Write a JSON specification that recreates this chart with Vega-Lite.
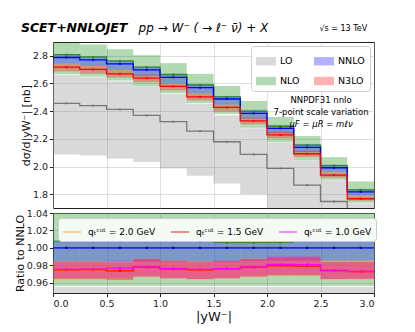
{
"$schema": "https://vega.github.io/schema/vega-lite/v6.json",
"background": "white",
"padding": {"left": 13, "top": 21, "right": 5, "bottom": 3},
"spacing": 5,
"bounds": "flush",
"config": {
  "font": "DejaVu Sans",
  "view": {"stroke": "#222", "strokeWidth": 1},
  "axis": {"labelFont": "DejaVu Sans", "titleFont": "DejaVu Sans", "labelFontSize": 9.5, "titleFontSize": 11, "titleFontWeight": "normal", "tickColor": "#222", "domain": false, "gridColor": "#b0b0b0", "gridOpacity": 0.4, "tickSize": 3.5, "labelPadding": 2, "labelOverlap": false, "labelSeparation": 0, "labelBound": false, "labelColor": "#222", "titleColor": "#111"}
},
"datasets": {
"top": [
{"s":"LO","i":1,"lo":0,"hi":0.25,"c":0.125,"v":2.457,"d":2.087,"u":2.662},
{"s":"LO","i":2,"lo":0.25,"hi":0.5,"c":0.375,"v":2.440,"d":2.080,"u":2.646},
{"s":"LO","i":3,"lo":0.5,"hi":0.75,"c":0.625,"v":2.413,"d":2.058,"u":2.616},
{"s":"LO","i":4,"lo":0.75,"hi":1.0,"c":0.875,"v":2.370,"d":2.032,"u":2.578},
{"s":"LO","i":5,"lo":1.0,"hi":1.25,"c":1.125,"v":2.324,"d":1.986,"u":2.524},
{"s":"LO","i":6,"lo":1.25,"hi":1.5,"c":1.375,"v":2.256,"d":1.933,"u":2.452},
{"s":"LO","i":7,"lo":1.5,"hi":1.75,"c":1.625,"v":2.179,"d":1.877,"u":2.370},
{"s":"LO","i":8,"lo":1.75,"hi":2.0,"c":1.875,"v":2.087,"d":1.800,"u":2.277},
{"s":"LO","i":9,"lo":2.0,"hi":2.25,"c":2.125,"v":1.986,"d":1.690,"u":2.174},
{"s":"LO","i":10,"lo":2.25,"hi":2.5,"c":2.375,"v":1.865,"d":1.560,"u":2.042},
{"s":"LO","i":11,"lo":2.5,"hi":2.75,"c":2.625,"v":1.747,"d":1.430,"u":1.901},
{"s":"LO","i":12,"lo":2.75,"hi":3.0,"c":2.875,"v":1.672,"d":1.300,"u":1.735},
{"s":"NLO","i":1,"lo":0,"hi":0.25,"c":0.125,"v":2.809,"d":2.666,"u":2.895},
{"s":"NLO","i":2,"lo":0.25,"hi":0.5,"c":0.375,"v":2.792,"d":2.649,"u":2.882},
{"s":"NLO","i":3,"lo":0.5,"hi":0.75,"c":0.625,"v":2.763,"d":2.621,"u":2.848},
{"s":"NLO","i":4,"lo":0.75,"hi":1.0,"c":0.875,"v":2.719,"d":2.580,"u":2.805},
{"s":"NLO","i":5,"lo":1.0,"hi":1.25,"c":1.125,"v":2.665,"d":2.529,"u":2.747},
{"s":"NLO","i":6,"lo":1.25,"hi":1.5,"c":1.375,"v":2.589,"d":2.457,"u":2.670},
{"s":"NLO","i":7,"lo":1.5,"hi":1.75,"c":1.625,"v":2.503,"d":2.379,"u":2.582},
{"s":"NLO","i":8,"lo":1.75,"hi":2.0,"c":1.875,"v":2.398,"d":2.279,"u":2.474},
{"s":"NLO","i":9,"lo":2.0,"hi":2.25,"c":2.125,"v":2.290,"d":2.176,"u":2.358},
{"s":"NLO","i":10,"lo":2.25,"hi":2.5,"c":2.375,"v":2.155,"d":2.044,"u":2.220},
{"s":"NLO","i":11,"lo":2.5,"hi":2.75,"c":2.625,"v":2.007,"d":1.903,"u":2.068},
{"s":"NLO","i":12,"lo":2.75,"hi":3.0,"c":2.875,"v":1.831,"d":1.737,"u":1.892},
{"s":"NNLO","i":1,"lo":0,"hi":0.25,"c":0.125,"v":2.788,"d":2.743,"u":2.811},
{"s":"NNLO","i":2,"lo":0.25,"hi":0.5,"c":0.375,"v":2.771,"d":2.727,"u":2.793},
{"s":"NNLO","i":3,"lo":0.5,"hi":0.75,"c":0.625,"v":2.742,"d":2.698,"u":2.764},
{"s":"NNLO","i":4,"lo":0.75,"hi":1.0,"c":0.875,"v":2.699,"d":2.656,"u":2.721},
{"s":"NNLO","i":5,"lo":1.0,"hi":1.25,"c":1.125,"v":2.645,"d":2.603,"u":2.669},
{"s":"NNLO","i":6,"lo":1.25,"hi":1.5,"c":1.375,"v":2.570,"d":2.529,"u":2.593},
{"s":"NNLO","i":7,"lo":1.5,"hi":1.75,"c":1.625,"v":2.488,"d":2.448,"u":2.510},
{"s":"NNLO","i":8,"lo":1.75,"hi":2.0,"c":1.875,"v":2.384,"d":2.346,"u":2.410},
{"s":"NNLO","i":9,"lo":2.0,"hi":2.25,"c":2.125,"v":2.276,"d":2.240,"u":2.301},
{"s":"NNLO","i":10,"lo":2.25,"hi":2.5,"c":2.375,"v":2.138,"d":2.105,"u":2.162},
{"s":"NNLO","i":11,"lo":2.5,"hi":2.75,"c":2.625,"v":1.991,"d":1.961,"u":2.013},
{"s":"NNLO","i":12,"lo":2.75,"hi":3.0,"c":2.875,"v":1.817,"d":1.790,"u":1.837},
{"s":"N3LO","i":1,"lo":0,"hi":0.25,"c":0.125,"v":2.718,"d":2.688,"u":2.743},
{"s":"N3LO","i":2,"lo":0.25,"hi":0.5,"c":0.375,"v":2.702,"d":2.671,"u":2.727},
{"s":"N3LO","i":3,"lo":0.5,"hi":0.75,"c":0.625,"v":2.669,"d":2.643,"u":2.698},
{"s":"N3LO","i":4,"lo":0.75,"hi":1.0,"c":0.875,"v":2.639,"d":2.610,"u":2.664},
{"s":"N3LO","i":5,"lo":1.0,"hi":1.25,"c":1.125,"v":2.579,"d":2.550,"u":2.603},
{"s":"N3LO","i":6,"lo":1.25,"hi":1.5,"c":1.375,"v":2.503,"d":2.477,"u":2.529},
{"s":"N3LO","i":7,"lo":1.5,"hi":1.75,"c":1.625,"v":2.427,"d":2.398,"u":2.448},
{"s":"N3LO","i":8,"lo":1.75,"hi":2.0,"c":1.875,"v":2.330,"d":2.305,"u":2.353},
{"s":"N3LO","i":9,"lo":2.0,"hi":2.25,"c":2.125,"v":2.228,"d":2.203,"u":2.251},
{"s":"N3LO","i":10,"lo":2.25,"hi":2.5,"c":2.375,"v":2.092,"d":2.070,"u":2.114},
{"s":"N3LO","i":11,"lo":2.5,"hi":2.75,"c":2.625,"v":1.938,"d":1.919,"u":1.959},
{"s":"N3LO","i":12,"lo":2.75,"hi":3.0,"c":2.875,"v":1.767,"d":1.753,"u":1.788}
],
"bot": [
{"s":"LO","i":1,"lo":0,"hi":3.0,"c":1.5,"v":0.88,"d":0.75,"u":0.955},
{"s":"NLO","i":1,"lo":0,"hi":0.25,"c":0.125,"v":1.0076,"d":0.956,"u":1.041},
{"s":"NLO","i":2,"lo":0.25,"hi":0.5,"c":0.375,"v":1.0076,"d":0.956,"u":1.041},
{"s":"NLO","i":3,"lo":0.5,"hi":0.75,"c":0.625,"v":1.0076,"d":0.956,"u":1.041},
{"s":"NLO","i":4,"lo":0.75,"hi":1.0,"c":0.875,"v":1.0076,"d":0.956,"u":1.041},
{"s":"NLO","i":5,"lo":1.0,"hi":1.25,"c":1.125,"v":1.0076,"d":0.956,"u":1.041},
{"s":"NLO","i":6,"lo":1.25,"hi":1.5,"c":1.375,"v":1.0074,"d":0.956,"u":1.041},
{"s":"NLO","i":7,"lo":1.5,"hi":1.75,"c":1.625,"v":1.0060,"d":0.956,"u":1.041},
{"s":"NLO","i":8,"lo":1.75,"hi":2.0,"c":1.875,"v":1.0060,"d":0.956,"u":1.041},
{"s":"NLO","i":9,"lo":2.0,"hi":2.25,"c":2.125,"v":1.0062,"d":0.956,"u":1.041},
{"s":"NLO","i":10,"lo":2.25,"hi":2.5,"c":2.375,"v":1.0078,"d":0.956,"u":1.041},
{"s":"NLO","i":11,"lo":2.5,"hi":2.75,"c":2.625,"v":1.0078,"d":0.956,"u":1.041},
{"s":"NLO","i":12,"lo":2.75,"hi":3.0,"c":2.875,"v":1.0078,"d":0.956,"u":1.041},
{"s":"NNLO","i":1,"lo":0,"hi":0.25,"c":0.125,"v":1.0,"d":0.984,"u":1.008},
{"s":"NNLO","i":2,"lo":0.25,"hi":0.5,"c":0.375,"v":1.0,"d":0.984,"u":1.008},
{"s":"NNLO","i":3,"lo":0.5,"hi":0.75,"c":0.625,"v":1.0,"d":0.984,"u":1.008},
{"s":"NNLO","i":4,"lo":0.75,"hi":1.0,"c":0.875,"v":1.0,"d":0.984,"u":1.008},
{"s":"NNLO","i":5,"lo":1.0,"hi":1.25,"c":1.125,"v":1.0,"d":0.984,"u":1.009},
{"s":"NNLO","i":6,"lo":1.25,"hi":1.5,"c":1.375,"v":1.0,"d":0.984,"u":1.009},
{"s":"NNLO","i":7,"lo":1.5,"hi":1.75,"c":1.625,"v":1.0,"d":0.984,"u":1.009},
{"s":"NNLO","i":8,"lo":1.75,"hi":2.0,"c":1.875,"v":1.0,"d":0.985,"u":1.011},
{"s":"NNLO","i":9,"lo":2.0,"hi":2.25,"c":2.125,"v":1.0,"d":0.985,"u":1.011},
{"s":"NNLO","i":10,"lo":2.25,"hi":2.5,"c":2.375,"v":1.0,"d":0.985,"u":1.011},
{"s":"NNLO","i":11,"lo":2.5,"hi":2.75,"c":2.625,"v":1.0,"d":0.985,"u":1.011},
{"s":"NNLO","i":12,"lo":2.75,"hi":3.0,"c":2.875,"v":1.0,"d":0.985,"u":1.011},
{"s":"qₜᶜᵘᵗ = 2.0 GeV","i":1,"lo":0,"hi":0.25,"c":0.125,"v":0.9745,"d":0.9625,"u":0.985,"el":0.9735,"eh":0.9755},
{"s":"qₜᶜᵘᵗ = 2.0 GeV","i":2,"lo":0.25,"hi":0.5,"c":0.375,"v":0.9750,"d":0.9630,"u":0.985,"el":0.9740,"eh":0.9760},
{"s":"qₜᶜᵘᵗ = 2.0 GeV","i":3,"lo":0.5,"hi":0.75,"c":0.625,"v":0.9738,"d":0.9625,"u":0.984,"el":0.9728,"eh":0.9748},
{"s":"qₜᶜᵘᵗ = 2.0 GeV","i":4,"lo":0.75,"hi":1.0,"c":0.875,"v":0.9775,"d":0.9660,"u":0.988,"el":0.9765,"eh":0.9785},
{"s":"qₜᶜᵘᵗ = 2.0 GeV","i":5,"lo":1.0,"hi":1.25,"c":1.125,"v":0.9752,"d":0.9645,"u":0.986,"el":0.9742,"eh":0.9762},
{"s":"qₜᶜᵘᵗ = 2.0 GeV","i":6,"lo":1.25,"hi":1.5,"c":1.375,"v":0.9748,"d":0.9640,"u":0.985,"el":0.9738,"eh":0.9758},
{"s":"qₜᶜᵘᵗ = 2.0 GeV","i":7,"lo":1.5,"hi":1.75,"c":1.625,"v":0.9757,"d":0.9645,"u":0.985,"el":0.9747,"eh":0.9767},
{"s":"qₜᶜᵘᵗ = 2.0 GeV","i":8,"lo":1.75,"hi":2.0,"c":1.875,"v":0.9776,"d":0.9660,"u":0.988,"el":0.9766,"eh":0.9786},
{"s":"qₜᶜᵘᵗ = 2.0 GeV","i":9,"lo":2.0,"hi":2.25,"c":2.125,"v":0.9792,"d":0.9680,"u":0.989,"el":0.9782,"eh":0.9802},
{"s":"qₜᶜᵘᵗ = 2.0 GeV","i":10,"lo":2.25,"hi":2.5,"c":2.375,"v":0.9791,"d":0.9680,"u":0.989,"el":0.9781,"eh":0.9801},
{"s":"qₜᶜᵘᵗ = 2.0 GeV","i":11,"lo":2.5,"hi":2.75,"c":2.625,"v":0.9740,"d":0.9635,"u":0.986,"el":0.9730,"eh":0.9750},
{"s":"qₜᶜᵘᵗ = 2.0 GeV","i":12,"lo":2.75,"hi":3.0,"c":2.875,"v":0.9728,"d":0.9635,"u":0.986,"el":0.9718,"eh":0.9738},
{"s":"qₜᶜᵘᵗ = 1.5 GeV","i":1,"lo":0,"hi":0.25,"c":0.125,"v":0.9747,"d":0.964,"u":0.984,"el":0.9735,"eh":0.9759},
{"s":"qₜᶜᵘᵗ = 1.5 GeV","i":2,"lo":0.25,"hi":0.5,"c":0.375,"v":0.9750,"d":0.964,"u":0.984,"el":0.9738,"eh":0.9762},
{"s":"qₜᶜᵘᵗ = 1.5 GeV","i":3,"lo":0.5,"hi":0.75,"c":0.625,"v":0.9735,"d":0.963,"u":0.983,"el":0.9723,"eh":0.9747},
{"s":"qₜᶜᵘᵗ = 1.5 GeV","i":4,"lo":0.75,"hi":1.0,"c":0.875,"v":0.9777,"d":0.967,"u":0.987,"el":0.9765,"eh":0.9789},
{"s":"qₜᶜᵘᵗ = 1.5 GeV","i":5,"lo":1.0,"hi":1.25,"c":1.125,"v":0.9754,"d":0.965,"u":0.985,"el":0.9742,"eh":0.9766},
{"s":"qₜᶜᵘᵗ = 1.5 GeV","i":6,"lo":1.25,"hi":1.5,"c":1.375,"v":0.9747,"d":0.964,"u":0.984,"el":0.9735,"eh":0.9759},
{"s":"qₜᶜᵘᵗ = 1.5 GeV","i":7,"lo":1.5,"hi":1.75,"c":1.625,"v":0.9758,"d":0.965,"u":0.985,"el":0.9746,"eh":0.9770},
{"s":"qₜᶜᵘᵗ = 1.5 GeV","i":8,"lo":1.75,"hi":2.0,"c":1.875,"v":0.9777,"d":0.967,"u":0.987,"el":0.9765,"eh":0.9789},
{"s":"qₜᶜᵘᵗ = 1.5 GeV","i":9,"lo":2.0,"hi":2.25,"c":2.125,"v":0.9793,"d":0.968,"u":0.989,"el":0.9781,"eh":0.9805},
{"s":"qₜᶜᵘᵗ = 1.5 GeV","i":10,"lo":2.25,"hi":2.5,"c":2.375,"v":0.9790,"d":0.968,"u":0.989,"el":0.9778,"eh":0.9802},
{"s":"qₜᶜᵘᵗ = 1.5 GeV","i":11,"lo":2.5,"hi":2.75,"c":2.625,"v":0.9738,"d":0.964,"u":0.984,"el":0.9726,"eh":0.9750},
{"s":"qₜᶜᵘᵗ = 1.5 GeV","i":12,"lo":2.75,"hi":3.0,"c":2.875,"v":0.9727,"d":0.9645,"u":0.984,"el":0.9715,"eh":0.9739},
{"s":"qₜᶜᵘᵗ = 1.0 GeV","i":1,"lo":0,"hi":0.25,"c":0.125,"v":0.9752,"d":0.965,"u":0.984,"el":0.9737,"eh":0.9767},
{"s":"qₜᶜᵘᵗ = 1.0 GeV","i":2,"lo":0.25,"hi":0.5,"c":0.375,"v":0.9753,"d":0.965,"u":0.984,"el":0.9738,"eh":0.9768},
{"s":"qₜᶜᵘᵗ = 1.0 GeV","i":3,"lo":0.5,"hi":0.75,"c":0.625,"v":0.9765,"d":0.965,"u":0.985,"el":0.9750,"eh":0.9780},
{"s":"qₜᶜᵘᵗ = 1.0 GeV","i":4,"lo":0.75,"hi":1.0,"c":0.875,"v":0.9778,"d":0.967,"u":0.987,"el":0.9763,"eh":0.9793},
{"s":"qₜᶜᵘᵗ = 1.0 GeV","i":5,"lo":1.0,"hi":1.25,"c":1.125,"v":0.9762,"d":0.965,"u":0.985,"el":0.9747,"eh":0.9777},
{"s":"qₜᶜᵘᵗ = 1.0 GeV","i":6,"lo":1.25,"hi":1.5,"c":1.375,"v":0.9752,"d":0.964,"u":0.984,"el":0.9737,"eh":0.9767},
{"s":"qₜᶜᵘᵗ = 1.0 GeV","i":7,"lo":1.5,"hi":1.75,"c":1.625,"v":0.9760,"d":0.965,"u":0.985,"el":0.9745,"eh":0.9775},
{"s":"qₜᶜᵘᵗ = 1.0 GeV","i":8,"lo":1.75,"hi":2.0,"c":1.875,"v":0.9778,"d":0.967,"u":0.987,"el":0.9763,"eh":0.9793},
{"s":"qₜᶜᵘᵗ = 1.0 GeV","i":9,"lo":2.0,"hi":2.25,"c":2.125,"v":0.9808,"d":0.969,"u":0.990,"el":0.9793,"eh":0.9823},
{"s":"qₜᶜᵘᵗ = 1.0 GeV","i":10,"lo":2.25,"hi":2.5,"c":2.375,"v":0.9806,"d":0.969,"u":0.990,"el":0.9791,"eh":0.9821},
{"s":"qₜᶜᵘᵗ = 1.0 GeV","i":11,"lo":2.5,"hi":2.75,"c":2.625,"v":0.9742,"d":0.964,"u":0.984,"el":0.9727,"eh":0.9757},
{"s":"qₜᶜᵘᵗ = 1.0 GeV","i":12,"lo":2.75,"hi":3.0,"c":2.875,"v":0.9728,"d":0.964,"u":0.984,"el":0.9713,"eh":0.9743}
]
},
"resolve": {"scale": {"fill": "independent", "stroke": "independent", "color": "independent", "opacity": "independent", "y": "independent"}, "legend": {"fill": "independent", "stroke": "independent"}},
"vconcat": [
{
 "width": 321, "height": 166,
 "layer": [
  {"data": {"name": "top"},
   "mark": {"type": "rect", "opacity": 0.3, "clip": true},
   "encoding": {
     "x": {"field": "lo", "type": "quantitative", "scale": {"domain": [0, 3], "nice": false, "zero": false}, "axis": {"values": [0, 0.5, 1, 1.5, 2, 2.5, 3], "labels": false, "ticks": false, "title": null, "grid": true}},
     "x2": {"field": "hi"},
     "y": {"field": "d", "type": "quantitative", "scale": {"domain": [1.7, 2.9], "nice": false, "zero": false}, "axis": {"tickCount": 6, "format": ".1f", "labelOverlap": false, "title": "dσ/d|yW⁻| [nb]", "titlePadding": 1, "grid": true}},
     "y2": {"field": "u"},
     "fill": {"field": "s", "type": "nominal", "scale": {"domain": ["LO", "NLO", "NNLO", "N3LO"], "range": ["#808080", "#008000", "#0000ff", "#ff0000"]},
       "legend": {"title": null, "orient": "top-right", "columns": 2, "symbolType": "M-1,-0.42H1V0.42H-1Z", "symbolSize": 400, "symbolOpacity": 0.3, "symbolStrokeWidth": 0, "labelFontSize": 9.5, "labelFont": "DejaVu Sans", "columnPadding": 14, "rowPadding": 5, "fillColor": "white", "strokeColor": "#cccccc", "padding": 5, "cornerRadius": 3, "offset": 4}}
   }},
  {"data": {"name": "top"},
   "transform": [{"fold": ["lo", "hi"], "as": ["k", "x"]}],
   "mark": {"type": "line", "strokeWidth": 1.3, "clip": true},
   "encoding": {
     "x": {"field": "x", "type": "quantitative"},
     "y": {"field": "v", "type": "quantitative"},
     "stroke": {"field": "s", "type": "nominal", "scale": {"domain": ["LO", "NLO", "NNLO", "N3LO"], "range": ["#777777", "#2e8b2e", "#0000ff", "#ff0000"]}, "legend": null},
     "order": [{"field": "i", "type": "quantitative"}, {"field": "x", "type": "quantitative"}]
   }},
  {"data": {"name": "top"},
   "mark": {"type": "point", "shape": "square", "filled": true, "opacity": 1, "clip": true},
   "encoding": {
     "x": {"field": "c", "type": "quantitative"},
     "y": {"field": "v", "type": "quantitative"},
     "color": {"field": "s", "type": "nominal", "scale": {"domain": ["LO", "NLO", "NNLO", "N3LO"], "range": ["#777777", "#2e7d32", "#0000cc", "#ff0000"]}, "legend": null},
     "size": {"field": "s", "type": "nominal", "scale": {"domain": ["LO", "NLO", "NNLO", "N3LO"], "range": [4, 4, 5, 16]}, "legend": null}
   }},
  {"data": {"values": [{}]},
   "mark": {"type": "text", "fontSize": 12.5, "fontWeight": "bold", "fontStyle": "italic", "align": "left", "baseline": "middle", "font": "DejaVu Sans"},
   "encoding": {"x": {"datum": -0.3}, "y": {"datum": 2.998}, "text": {"value": "SCET+NNLOJET"}}},
  {"data": {"values": [{}]},
   "mark": {"type": "text", "fontSize": 12, "fontStyle": "italic", "align": "left", "baseline": "middle", "font": "DejaVu Sans"},
   "encoding": {"x": {"datum": 0.8}, "y": {"datum": 2.998}, "text": {"value": "pp → W⁻ ( → ℓ⁻ ν̄)  +  X"}}},
  {"data": {"values": [{}]},
   "mark": {"type": "text", "fontSize": 8, "align": "left", "baseline": "middle", "font": "DejaVu Sans"},
   "encoding": {"x": {"datum": 2.49}, "y": {"datum": 2.995}, "text": {"value": "√s = 13 TeV"}}},
  {"data": {"values": [{}]},
   "mark": {"type": "text", "fontSize": 8.5, "align": "center", "baseline": "middle", "font": "DejaVu Sans"},
   "encoding": {"x": {"datum": 2.505}, "y": {"datum": 2.483}, "text": {"value": "NNPDF31 nnlo"}}},
  {"data": {"values": [{}]},
   "mark": {"type": "text", "fontSize": 8.5, "align": "center", "baseline": "middle", "font": "DejaVu Sans"},
   "encoding": {"x": {"datum": 2.505}, "y": {"datum": 2.396}, "text": {"value": "7-point scale variation"}}},
  {"data": {"values": [{}]},
   "mark": {"type": "text", "fontSize": 8.5, "fontStyle": "italic", "align": "center", "baseline": "middle", "font": "DejaVu Sans"},
   "encoding": {"x": {"datum": 2.505}, "y": {"datum": 2.309}, "text": {"value": "μF = μR = mℓν"}}}
 ]
},
{
 "width": 321, "height": 80,
 "data": {"name": "bot"},
 "layer": [
  {"mark": {"type": "rect", "clip": true},
   "encoding": {
     "x": {"field": "lo", "type": "quantitative", "scale": {"domain": [0, 3], "nice": false, "zero": false}, "axis": {"values": [0, 0.5, 1, 1.5, 2, 2.5, 3], "format": ".1f", "labelOverlap": false, "title": "|yW⁻|", "titleFontSize": 13, "titlePadding": 2, "grid": true}},
     "x2": {"field": "hi"},
     "y": {"field": "d", "type": "quantitative", "scale": {"domain": [0.948, 1.04], "nice": false, "zero": false}, "axis": {"tickCount": 5, "format": ".2f", "labelOverlap": false, "title": "Ratio to NNLO", "titlePadding": 1, "grid": true}},
     "y2": {"field": "u"},
     "fill": {"field": "s", "type": "nominal", "scale": {"domain": ["LO", "NLO", "NNLO", "qₜᶜᵘᵗ = 2.0 GeV", "qₜᶜᵘᵗ = 1.5 GeV", "qₜᶜᵘᵗ = 1.0 GeV"], "range": ["#808080", "#008000", "#0000ff", "#ffa500", "#ff0000", "#ff00ff"]}, "legend": null},
     "opacity": {"field": "s", "type": "nominal", "scale": {"domain": ["LO", "NLO", "NNLO", "qₜᶜᵘᵗ = 2.0 GeV", "qₜᶜᵘᵗ = 1.5 GeV", "qₜᶜᵘᵗ = 1.0 GeV"], "range": [0.3, 0.3, 0.45, 0.3, 0.35, 0.3]}, "legend": null}
   }},
  {"transform": [{"filter": "datum.s === 'NLO'"}, {"fold": ["lo", "hi"], "as": ["k", "x"]}],
   "mark": {"type": "line", "strokeWidth": 1, "stroke": "#2e8b2e", "clip": true},
   "encoding": {"x": {"field": "x", "type": "quantitative"}, "y": {"field": "v", "type": "quantitative"}, "order": [{"field": "i", "type": "quantitative"}, {"field": "x", "type": "quantitative"}]}},
  {"transform": [{"filter": "datum.s === 'NNLO'"}, {"fold": ["lo", "hi"], "as": ["k", "x"]}],
   "mark": {"type": "line", "strokeWidth": 1.2, "stroke": "#0000ff", "clip": true},
   "encoding": {"x": {"field": "x", "type": "quantitative"}, "y": {"field": "v", "type": "quantitative"}, "order": [{"field": "i", "type": "quantitative"}, {"field": "x", "type": "quantitative"}]}},
  {"transform": [{"filter": {"field": "s", "oneOf": ["qₜᶜᵘᵗ = 2.0 GeV", "qₜᶜᵘᵗ = 1.5 GeV", "qₜᶜᵘᵗ = 1.0 GeV"]}}, {"fold": ["lo", "hi"], "as": ["k", "x"]}],
   "mark": {"type": "line", "strokeWidth": 1.3, "clip": true},
   "encoding": {"x": {"field": "x", "type": "quantitative"}, "y": {"field": "v", "type": "quantitative"},
     "stroke": {"field": "s", "type": "nominal", "scale": {"domain": ["qₜᶜᵘᵗ = 2.0 GeV", "qₜᶜᵘᵗ = 1.5 GeV", "qₜᶜᵘᵗ = 1.0 GeV"], "range": ["#ffa500", "#ff0000", "#ff00ff"]},
       "legend": {"title": null, "orient": "top-left", "direction": "horizontal", "columns": 3, "symbolType": "stroke", "symbolSize": 324, "symbolStrokeWidth": 1.5, "symbolOpacity": 0.6, "labelFontSize": 9, "labelFont": "DejaVu Sans", "labelOffset": 6, "columnPadding": 12, "fillColor": "#f4faf4", "strokeColor": "#cccccc", "padding": 4, "cornerRadius": 3, "offset": 5}},
     "order": [{"field": "i", "type": "quantitative"}, {"field": "x", "type": "quantitative"}]}},
  {"transform": [{"filter": {"field": "s", "oneOf": ["qₜᶜᵘᵗ = 2.0 GeV", "qₜᶜᵘᵗ = 1.5 GeV", "qₜᶜᵘᵗ = 1.0 GeV"]}}],
   "mark": {"type": "rule", "strokeWidth": 1.2, "clip": true},
   "encoding": {"x": {"field": "c", "type": "quantitative"}, "y": {"field": "el", "type": "quantitative"}, "y2": {"field": "eh"},
     "stroke": {"field": "s", "type": "nominal", "legend": null}}},
  {"transform": [{"filter": {"field": "s", "oneOf": ["NLO", "NNLO", "qₜᶜᵘᵗ = 2.0 GeV", "qₜᶜᵘᵗ = 1.5 GeV", "qₜᶜᵘᵗ = 1.0 GeV"]}}],
   "mark": {"type": "point", "shape": "square", "filled": true, "opacity": 1, "size": 5, "clip": true},
   "encoding": {"x": {"field": "c", "type": "quantitative"}, "y": {"field": "v", "type": "quantitative"},
     "color": {"field": "s", "type": "nominal", "scale": {"domain": ["NLO", "NNLO", "qₜᶜᵘᵗ = 2.0 GeV", "qₜᶜᵘᵗ = 1.5 GeV", "qₜᶜᵘᵗ = 1.0 GeV"], "range": ["#2e7d32", "#0000cc", "#ffa500", "#ff0000", "#ff00ff"]}, "legend": null}}}
 ]
}
]
}
